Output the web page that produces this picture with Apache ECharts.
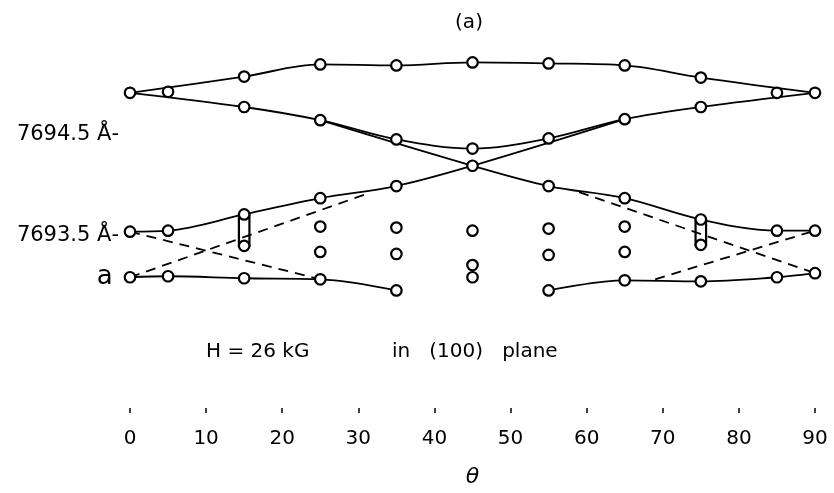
<!DOCTYPE html>
<html><head><meta charset="utf-8">
<script src="https://cdn.jsdelivr.net/npm/echarts@6/dist/echarts.min.js"></script>
<style>html,body{margin:0;padding:0;background:#fff}#c{width:834px;height:493px}</style>
</head><body><div id="c"></div>
<script>
// ---- data (theta in degrees, wavelength in Å) ----
const xTicks = [0, 10, 20, 30, 40, 50, 60, 70, 80, 90];
const yTickLabels = [7693.5, 7694.5];
const outerTop = [[0,7694.91],[15,7695.07],[25,7695.19],[35,7695.18],[45,7695.21],[55,7695.20],[65,7695.18],[75,7695.06],[90,7694.91]];
const innerU = [[0,7694.91],[15,7694.77],[25,7694.64],[35,7694.45],[45,7694.36],[55,7694.46],[65,7694.65],[75,7694.77],[90,7694.91]];
const crossDown = [[25,7694.64],[45,7694.19],[55,7693.99],[65,7693.87],[75,7693.66],[85,7693.55],[90,7693.55]];
const crossUp = [[0,7693.54],[5,7693.55],[15,7693.71],[25,7693.87],[35,7693.99],[45,7694.19],[65,7694.65]];
const bottomLeft = [[0,7693.09],[5,7693.10],[15,7693.08],[25,7693.07],[35,7692.96]];
const bottomRight = [[55,7692.96],[65,7693.06],[75,7693.05],[85,7693.09],[90,7693.13]];
const dashLeftDown = [[0,7693.54],[25,7693.07]];
const dashLeftUp = [[0,7693.09],[31,7693.91]];
const dashRightDown = [[59,7693.93],[90,7693.13]];
const dashRightUp = [[69,7693.07],[90,7693.55]];
const extraPoints = [[5,7694.92],[85,7694.91],[15,7693.40],[75,7693.41],[25,7693.59],[25,7693.34],[35,7693.58],[35,7693.32],[45,7693.55],[45,7693.21],[45,7693.09],[55,7693.57],[55,7693.31],[65,7693.59],[65,7693.34]];
const pills = [[15,7693.71,7693.40],[75,7693.66,7693.41]];
const labelPoint = bottomLeft[0];

// ---- build ----
const FONT = 'DejaVu Sans';
const SYM = 10.5;
const solidLines = [outerTop, innerU, crossDown, crossUp, bottomLeft, bottomRight];
const dashedLines = [dashLeftDown, dashLeftUp, dashRightDown, dashRightUp];
const seen = new Set();
const pts = [];
solidLines.concat([extraPoints]).forEach(arr => arr.forEach(p => {
  const k = p[0] + '_' + p[1];
  if (seen.has(k)) return;
  seen.add(k);
  const item = { value: p };
  if (p === labelPoint) {
    item.label = { show: true, position: 'left', distance: 11, formatter: 'a', fontSize: 26, fontFamily: FONT, color: '#000' };
  }
  pts.push(item);
}));

const series = [];
solidLines.forEach(d => series.push({
  type: 'line', data: d, smooth: 0.35, showSymbol: false, z: 2,
  lineStyle: { color: '#000', width: 1.8 }
}));
dashedLines.forEach(d => series.push({
  type: 'line', data: d, showSymbol: false, z: 2,
  lineStyle: { color: '#000', width: 1.8, type: [10, 7] }
}));
series.push({
  type: 'custom', data: pills, z: 3, encode: { x: 0, y: [1, 2] },
  renderItem: function (params, api) {
    const a = api.coord([api.value(0), api.value(1)]);
    const b = api.coord([api.value(0), api.value(2)]);
    const r = SYM / 2;
    return { type: 'rect', shape: { x: a[0] - r, y: a[1], width: 2 * r, height: b[1] - a[1] },
      style: { fill: 'none', stroke: '#000', lineWidth: 2.2 } };
  }
});
series.push({
  type: 'scatter', data: pts, symbol: 'circle', symbolSize: SYM, z: 5,
  itemStyle: { color: '#fff', borderColor: '#000', borderWidth: 2.2, opacity: 1 }
});

const chart = echarts.init(document.getElementById('c'));
chart.setOption({
  animation: false,
  backgroundColor: '#fff',
  grid: { left: 130, right: 19, top: 33, bottom: 83 },
  xAxis: {
    type: 'value', min: xTicks[0], max: xTicks[xTicks.length - 1], interval: 10,
    axisLine: { show: false },
    axisTick: { show: true, length: 5, lineStyle: { color: '#000', width: 1.5 } },
    splitLine: { show: false },
    axisLabel: { color: '#000', fontSize: 20, fontFamily: FONT, margin: 21 },
    name: 'θ', nameLocation: 'middle', nameGap: 58,
    nameTextStyle: { color: '#000', fontSize: 22, fontStyle: 'italic', fontFamily: FONT }
  },
  yAxis: {
    type: 'value', min: 7691.8, max: 7695.5,
    axisLine: { show: false }, axisTick: { show: false }, splitLine: { show: false },
    axisLabel: {
      customValues: yTickLabels, color: '#000', fontSize: 21, fontFamily: FONT, margin: 11,
      formatter: v => v.toFixed(1) + ' Å-'
    }
  },
  graphic: [
    { type: 'text', x: 469, y: 23, style: { text: '(a)', fontSize: 20, fontFamily: FONT, fill: '#000', textAlign: 'center', verticalAlign: 'middle' } },
    { type: 'text', x: 206, y: 352, style: { text: 'H = 26 kG', fontSize: 20, fontFamily: FONT, fill: '#000', textAlign: 'left', verticalAlign: 'middle' } },
    { type: 'text', x: 392, y: 352, style: { text: 'in   (100)   plane', fontSize: 20, fontFamily: FONT, fill: '#000', textAlign: 'left', verticalAlign: 'middle' } }
  ],
  series: series
});
</script></body></html>
